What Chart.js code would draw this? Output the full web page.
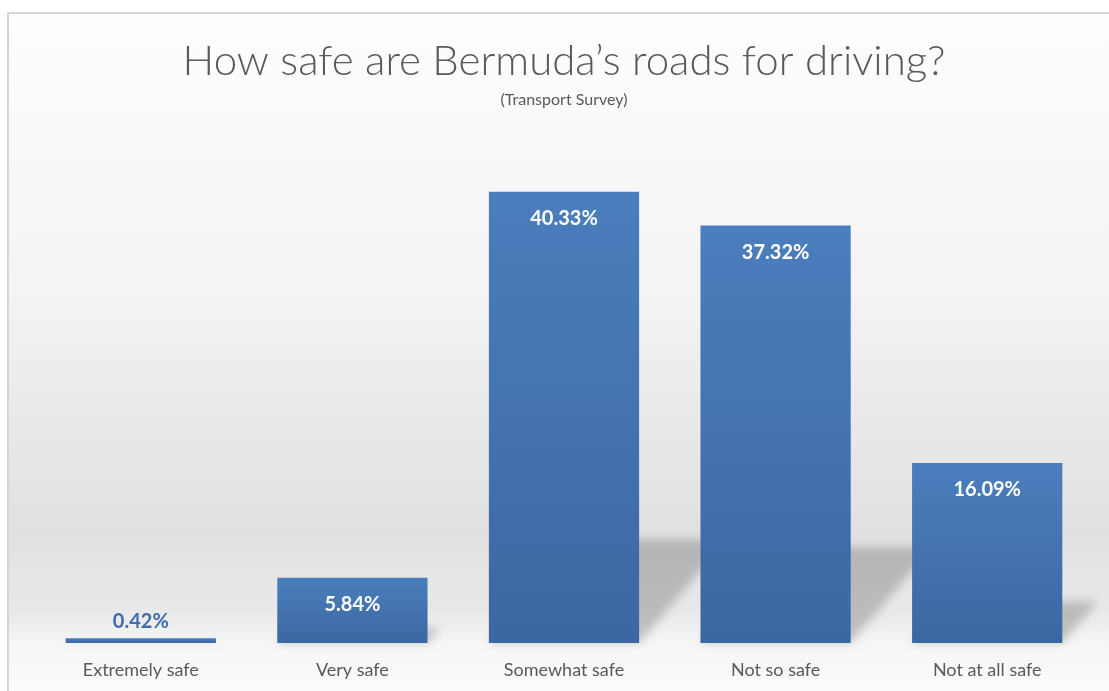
<!DOCTYPE html>
<html>
<head>
<meta charset="utf-8">
<title>How safe are Bermuda’s roads for driving?</title>
<script src="https://cdn.jsdelivr.net/npm/chart.js@4"></script>
<style>
    html, body { margin: 0; padding: 0; background: #fff; overflow: hidden; }
    #wrap { position: absolute; left: 0; top: 0; width: 1109px; height: 691px; }
</style>
</head>
<body>
<div id="wrap"><canvas id="chart"></canvas></div>
<script>
    var categories = ['Extremely safe', 'Very safe', 'Somewhat safe', 'Not so safe', 'Not at all safe'];
    var shares = [0.42, 5.84, 40.33, 37.32, 16.09];
    var chartTitle = 'How safe are Bermuda\u2019s roads for driving?';
    var chartSubtitle = '(Transport Survey)';

    var FONT = "Lato, 'Open Sans', 'Noto Sans', sans-serif";

    // frame + soft grey backdrop behind the plot
    var backdrop = {
        id: 'backdrop',
        beforeDraw: function (chart) {
            var ctx = chart.ctx, w = chart.width, h = chart.height;
            var base = chart.scales.y.getPixelForValue(0);
            ctx.save();
            ctx.fillStyle = '#ffffff';
            ctx.fillRect(0, 0, w, h);
            var g = ctx.createLinearGradient(0, 12, 0, h);
            var stop = function (y) { return Math.max(0, Math.min(1, (y - 12) / (h - 12))); };
            g.addColorStop(0, '#fefefe');
            g.addColorStop(stop(300), '#f3f3f3');
            g.addColorStop(stop(base - 110), '#e0e0e0');
            g.addColorStop(stop(base - 30), '#e9e9e9');
            g.addColorStop(stop(base + 4), '#f7f7f7');
            g.addColorStop(1, '#fbfbfb');
            ctx.fillStyle = g;
            ctx.fillRect(8, 13, w, h);
            ctx.strokeStyle = '#d6d6d6';
            ctx.lineWidth = 2;
            ctx.beginPath();
            ctx.moveTo(8, h + 2);
            ctx.lineTo(8, 13);
            ctx.lineTo(w + 2, 13);
            ctx.stroke();
            ctx.restore();
        }
    };

    // slanted drop shadow lying on the floor behind each bar
    var floorShadow = {
        id: 'floorShadow',
        beforeDatasetsDraw: function (chart) {
            var ctx = chart.ctx;
            var bars = chart.getDatasetMeta(0).data;
            ctx.save();
            ctx.filter = 'blur(5px)';
            ctx.fillStyle = 'rgba(90, 90, 90, 0.32)';
            bars.forEach(function (bar) {
                var x0 = bar.x - bar.width / 2, x1 = bar.x + bar.width / 2;
                var hgt = (bar.base - bar.y) * 0.23;
                var dx = hgt * 0.85;
                ctx.beginPath();
                ctx.moveTo(x0, bar.base);
                ctx.lineTo(x1, bar.base);
                ctx.lineTo(x1 + dx, bar.base - hgt);
                ctx.lineTo(x0 + dx, bar.base - hgt);
                ctx.closePath();
                ctx.fill();
            });
            ctx.restore();
        }
    };

    // percentage labels: inside the bar top, or above it when the bar is too thin
    var valueLabels = {
        id: 'valueLabels',
        afterDatasetsDraw: function (chart) {
            var ctx = chart.ctx;
            var bars = chart.getDatasetMeta(0).data;
            ctx.save();
            ctx.font = 'bold 20px ' + FONT;
            ctx.textAlign = 'center';
            ctx.textBaseline = 'middle';
            bars.forEach(function (bar, i) {
                var text = shares[i].toFixed(2) + '%';
                if (bar.base - bar.y < 40) {
                    ctx.fillStyle = '#3e6db0';
                    ctx.fillText(text, bar.x, bar.y - 17);
                } else {
                    ctx.fillStyle = '#ffffff';
                    ctx.fillText(text, bar.x, bar.y + 27);
                }
            });
            ctx.restore();
        }
    };

    function barFill(context) {
        var chart = context.chart;
        if (!chart.chartArea || !chart.scales.y) {
            return '#4474b2';
        }
        var top = chart.scales.y.getPixelForValue(shares[context.dataIndex]);
        var base = chart.scales.y.getPixelForValue(0);
        if (base - top < 2) {
            return '#3f6aa6';
        }
        var g = chart.ctx.createLinearGradient(0, top, 0, base);
        g.addColorStop(0, '#4b7ebd');
        g.addColorStop(1, '#3c67a2');
        return g;
    }

    new Chart(document.getElementById('chart'), {
        type: 'bar',
        data: {
            labels: categories,
            datasets: [{
                data: shares,
                backgroundColor: barFill,
                borderWidth: 0,
                categoryPercentage: 1,
                barPercentage: 0.71
            }]
        },
        options: {
            responsive: true,
            maintainAspectRatio: false,
            animation: false,
            layout: { padding: { left: 35, right: 16, top: 12, bottom: 0 } },
            plugins: {
                legend: { display: false },
                tooltip: { enabled: false },
                title: {
                    display: true,
                    text: chartTitle,
                    color: '#595959',
                    font: { family: FONT, size: 42, weight: '300' },
                    padding: { top: 24, bottom: 2 }
                },
                subtitle: {
                    display: true,
                    text: chartSubtitle,
                    color: '#595959',
                    font: { family: FONT, size: 16 },
                    padding: { top: 2, bottom: 30 }
                }
            },
            scales: {
                x: {
                    grid: { display: false, drawTicks: false },
                    border: { display: false },
                    ticks: {
                        color: '#595959',
                        padding: 16,
                        font: { family: FONT, size: 18 }
                    },
                    afterFit: function (scale) {
                        scale.height = 48;
                    }
                },
                y: {
                    display: false,
                    min: 0,
                    max: 45
                }
            }
        },
        plugins: [backdrop, floorShadow, valueLabels]
    });
</script>
</body>
</html>
